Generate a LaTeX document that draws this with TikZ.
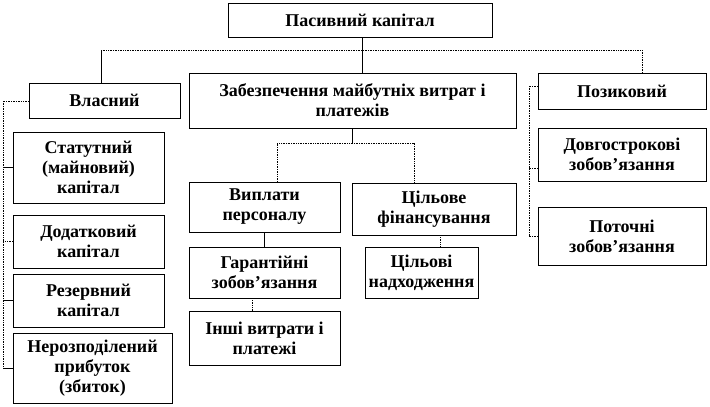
\documentclass[tikz,border=0pt]{standalone}
\usepackage{fontspec}
\setmainfont{Liberation Serif}
\usetikzlibrary{positioning}
\tikzset{
  box/.style={draw=black, line width=0.7pt, align=center, inner sep=1pt,
    font=\fontsize{18}{20}\selectfont\bfseries, text=black},
  solidline/.style={draw=black, line width=0.7pt},
  dotline/.style={draw=black, line width=0.7pt, densely dotted}
}
\begin{document}
\begin{tikzpicture}[x=1pt,y=-1pt]
\useasboundingbox (0,0) rectangle (710,407);
% boxes
\node[box, minimum width=264pt, minimum height=34pt] (top) at (360,20) {Пасивний капітал};
\node[box, minimum width=151pt, minimum height=35pt] (vl) at (104.5,100.5) {Власний};
\node[box, minimum width=327pt, minimum height=55pt] (mid) at (352.5,100.5) {Забезпечення майбутніх витрат і\\платежів};
\node[box, minimum width=168pt, minimum height=36pt] (poz) at (622,91) {Позиковий};
\node[box, minimum width=168pt, minimum height=53pt] (dov) at (622,154.5) {Довгострокові\\зобов’язання};
\node[box, minimum width=168pt, minimum height=58pt] (pot) at (622,236) {Поточні\\зобов’язання};
\node[box, minimum width=151pt, minimum height=71pt] (stat) at (88.5,167.5) {Статутний\\(майновий)\\капітал};
\node[box, minimum width=151pt, minimum height=53pt] (dod) at (88.5,241.5) {Додатковий\\капітал};
\node[box, minimum width=151pt, minimum height=53pt] (rez) at (88.5,300.5) {Резервний\\капітал};
\node[box, minimum width=159pt, minimum height=70pt] (ner) at (92.5,368) {Нерозподілений\\прибуток\\(збиток)};
\node[box, minimum width=151pt, minimum height=50pt] (vyp) at (264.5,207) {Виплати\\персоналу};
\node[box, minimum width=164pt, minimum height=52pt] (cil) at (434,209) {Цільове\\фінансування};
\node[box, minimum width=151pt, minimum height=51pt] (gar) at (264.5,272.5) {Гарантійні\\зобов’язання};
\node[box, minimum width=151pt, minimum height=54pt] (insh) at (264.5,338) {Інші витрати і\\платежі};
\node[box, minimum width=113pt, minimum height=51pt] (cnad) at (421.5,272.5) {Цільові\\надходження};
% junction coordinates
\coordinate (jl) at (101,50);
\coordinate (jr) at (642,50);
\coordinate (ls) at (3,101);
\coordinate (rs) at (529,86);
\coordinate (ma) at (277,143);
\coordinate (mb) at (414,143);
% top level
\draw[solidline] (top.south -| 362,0) -- (mid.north -| 362,0);
\draw[dotline] (jl) -- (jr);
\draw[solidline] (jl) -- (jl |- vl.north);
\draw[dotline] (jr) -- (jr |- poz.north);
% left spine
\draw[dotline] (vl.west |- ls) -- (ls) -- (ls |- ner.west);
\draw[solidline] (stat.west) -- (stat.west -| ls);
\draw[dotline] (dod.west) -- (dod.west -| ls);
\draw[solidline] (rez.west) -- (rez.west -| ls);
\draw[solidline] (ner.west) -- (ner.west -| ls);
% right spine
\draw[dotline] (poz.west |- rs) -- (rs) -- (rs |- pot.west) -- (pot.west);
\draw[dotline] ([yshift=-13.5pt]dov.west) -- ([yshift=-13.5pt]dov.west -| rs);
% middle subtree
\draw[solidline] (mid.south) -- (mid.south |- ma);
\draw[dotline] (ma |- vyp.north) -- (ma) -- (mb) -- (mb |- cil.north);
\draw[solidline] (vyp.south) -- (gar.north);
\draw[dotline] (gar.south -| 252,0) -- (insh.north -| 252,0);
\draw[dotline] (cil.south -| 440,0) -- (cnad.north -| 440,0);
\end{tikzpicture}
\end{document}
